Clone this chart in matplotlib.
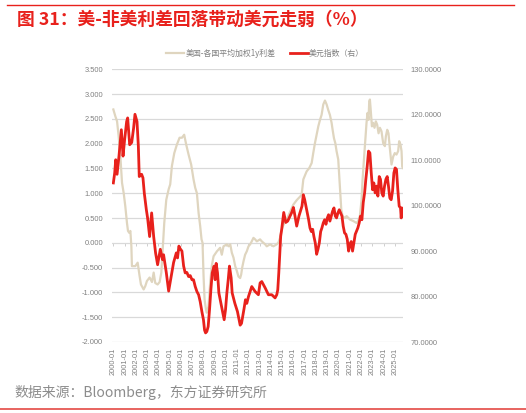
import matplotlib
matplotlib.use("Agg")
import matplotlib.pyplot as plt
from matplotlib.lines import Line2D
from matplotlib.ticker import FormatStrFormatter, FixedLocator

plt.rcParams['axes.unicode_minus'] = False
plt.rcParams['font.family'] = ['Liberation Sans', 'Noto Sans CJK SC', 'DejaVu Sans']

# ---------------- data ----------------
spread_t = [2000.00, 2000.18, 2000.33, 2000.47, 2000.62, 2000.77, 2000.92, 2001.06, 2001.21, 2001.30,
            2001.42, 2001.51, 2001.60, 2001.65, 2001.95, 2002.16, 2002.33, 2002.45, 2002.69, 2002.84,
            2002.98, 2003.22, 2003.43, 2003.58, 2003.72, 2003.93, 2004.11, 2004.26, 2004.40, 2004.52,
            2004.70, 2004.91, 2005.05, 2005.20, 2005.41, 2005.64, 2005.88, 2006.09, 2006.29, 2006.47,
            2006.68, 2006.91, 2007.12, 2007.27, 2007.42, 2007.57, 2007.71, 2007.83, 2007.92, 2008.01,
            2008.10, 2008.22, 2008.30, 2008.45, 2008.60, 2008.75, 2008.90, 2009.20, 2009.48, 2009.63,
            2009.78, 2010.08, 2010.23, 2010.38, 2010.52, 2010.67, 2010.82, 2010.97, 2011.11, 2011.26,
            2011.35, 2011.44, 2011.56, 2011.70, 2011.85, 2012.00, 2012.15, 2012.29, 2012.44, 2012.59,
            2012.74, 2013.03, 2013.18, 2013.48, 2013.62, 2013.92, 2014.21, 2014.51, 2014.66, 2014.80,
            2014.95, 2015.10, 2015.39, 2015.69, 2015.98, 2016.28, 2016.57, 2016.72, 2016.87, 2017.16,
            2017.40, 2017.61, 2017.75, 2017.90, 2018.05, 2018.20, 2018.35, 2018.49, 2018.64, 2018.79,
            2018.94, 2019.08, 2019.23, 2019.38, 2019.47, 2019.59, 2019.71, 2019.82, 2019.97, 2020.06,
            2020.15, 2020.24, 2020.36, 2020.56, 2020.71, 2021.01, 2021.30, 2021.60, 2021.74, 2021.89,
            2022.04, 2022.13, 2022.25, 2022.37, 2022.48, 2022.57, 2022.66, 2022.72, 2022.78, 2022.84,
            2022.96, 2023.07, 2023.19, 2023.31, 2023.43, 2023.55, 2023.67, 2023.81, 2023.96, 2024.11,
            2024.20, 2024.32, 2024.43, 2024.55, 2024.70, 2024.85, 2024.99, 2025.14, 2025.29, 2025.38,
            2025.50, 2025.59, 2025.65, 2025.70]
spread_v = [2.69, 2.55, 2.45, 2.15, 1.75, 1.21, 1.00, 0.74, 0.40, 0.24,
            0.20, 0.24, -0.07, -0.47, -0.47, -0.40, -0.67, -0.84, -0.94, -0.87,
            -0.77, -0.70, -0.79, -0.60, -0.81, -0.84, -0.79, -0.60, -0.07, 0.40,
            0.87, 1.08, 1.18, 1.55, 1.81, 1.98, 2.12, 2.12, 2.18, 1.98,
            1.78, 1.58, 1.28, 1.11, 1.00, 0.60, 0.34, 0.07, 0.00, -0.67,
            -1.14, -1.34, -1.41, -1.28, -0.80, -0.45, -0.27, -0.17, -0.10, -0.24,
            -0.07, -0.03, -0.07, -0.03, -0.20, -0.30, -0.47, -0.57, -0.68, -0.71,
            -0.64, -0.50, -0.37, -0.24, -0.17, -0.07, -0.03, 0.03, 0.10, 0.07,
            0.03, 0.07, 0.03, -0.03, -0.07, -0.03, -0.07, -0.03, 0.01, 0.10,
            0.27, 0.36, 0.47, 0.62, 0.77, 0.86, 0.93, 0.97, 1.28, 1.44,
            1.51, 1.61, 1.81, 2.01, 2.18, 2.35, 2.48, 2.58, 2.79, 2.87,
            2.79, 2.68, 2.58, 2.42, 2.28, 2.11, 2.01, 1.85, 1.68, 1.34,
            1.01, 0.67, 0.54, 0.50, 0.54, 0.47, 0.44, 0.40, 0.44, 0.54,
            0.87, 1.28, 1.68, 2.08, 2.42, 2.62, 2.48, 2.85, 2.89, 2.72,
            2.35, 2.42, 2.32, 2.45, 2.38, 2.21, 2.32, 2.25, 2.01, 1.95,
            2.15, 2.28, 2.21, 1.91, 1.58, 1.74, 1.81, 1.78, 1.85, 2.05,
            1.98, 1.85, 1.54, 1.51]

dxy_t = [2000.00, 2000.12, 2000.21, 2000.33, 2000.50, 2000.71, 2000.86, 2001.00, 2001.18, 2001.27,
         2001.36, 2001.45, 2001.63, 2001.80, 2001.92, 2002.10, 2002.22, 2002.30, 2002.51, 2002.63,
         2002.75, 2002.93, 2003.04, 2003.22, 2003.40, 2003.58, 2003.75, 2003.93, 2004.17, 2004.37,
         2004.46, 2004.70, 2004.91, 2005.14, 2005.35, 2005.59, 2005.70, 2005.82, 2005.94, 2006.09,
         2006.24, 2006.38, 2006.53, 2006.68, 2006.83, 2006.98, 2007.12, 2007.27, 2007.42, 2007.57,
         2007.71, 2007.86, 2008.00, 2008.10, 2008.19, 2008.30, 2008.42, 2008.54, 2008.66, 2008.78,
         2008.95, 2009.04, 2009.13, 2009.25, 2009.37, 2009.60, 2009.84, 2009.96, 2010.08, 2010.20,
         2010.31, 2010.46, 2010.55, 2010.79, 2011.02, 2011.26, 2011.38, 2011.61, 2011.73, 2011.85,
         2012.00, 2012.29, 2012.59, 2012.88, 2013.03, 2013.18, 2013.48, 2013.77, 2014.07, 2014.36,
         2014.51, 2014.60, 2014.69, 2014.78, 2014.86, 2014.95, 2015.13, 2015.31, 2015.48, 2015.84,
         2015.99, 2016.13, 2016.28, 2016.48, 2016.75, 2016.87, 2016.99, 2017.10, 2017.22, 2017.34,
         2017.46, 2017.58, 2017.70, 2017.81, 2017.93, 2018.05, 2018.17, 2018.29, 2018.41, 2018.52,
         2018.64, 2018.76, 2018.88, 2019.00, 2019.11, 2019.23, 2019.35, 2019.47, 2019.59, 2019.71,
         2019.82, 2019.94, 2020.06, 2020.18, 2020.30, 2020.41, 2020.53, 2020.65, 2020.77, 2020.89,
         2021.01, 2021.12, 2021.24, 2021.36, 2021.48, 2021.71, 2021.83, 2021.95, 2022.07, 2022.19,
         2022.31, 2022.42, 2022.54, 2022.66, 2022.78, 2022.90, 2023.02, 2023.13, 2023.25, 2023.37,
         2023.49, 2023.61, 2023.72, 2023.84, 2023.96, 2024.08, 2024.20, 2024.32, 2024.43, 2024.55,
         2024.67, 2024.79, 2024.91, 2025.02, 2025.14, 2025.26, 2025.38, 2025.50, 2025.56, 2025.62,
         2025.70]
dxy_v = [105.0, 107.2, 110.1, 106.9, 110.9, 116.7, 110.9, 114.5, 118.5, 119.3,
         116.4, 113.4, 113.9, 117.1, 120.1, 118.5, 113.1, 106.4, 106.9, 106.1,
         102.7, 99.1, 97.3, 93.2, 98.4, 93.2, 89.6, 87.0, 90.4, 88.1,
         89.2, 85.3, 81.2, 84.5, 87.5, 89.6, 88.5, 91.1, 90.5, 90.0,
         86.7, 85.2, 85.3, 84.4, 84.6, 83.7, 83.7, 82.2, 81.1, 80.4,
         78.9, 76.7, 74.9, 72.6, 72.0, 72.3, 73.4, 77.1, 81.5, 85.2,
         86.7, 83.7, 87.3, 85.2, 80.8, 77.9, 74.9, 77.1, 80.8, 83.7,
         86.7, 84.1, 80.8, 78.5, 76.7, 73.7, 74.1, 77.4, 79.3, 78.5,
         80.0, 82.2, 81.1, 80.4, 83.0, 83.3, 81.9, 80.4, 80.4, 79.7,
         80.4, 81.5, 85.2, 89.6, 93.3, 94.8, 98.5, 96.3, 96.6, 98.5,
         99.6, 97.7, 95.5, 97.7, 99.9, 102.4, 101.3, 99.9, 98.4, 96.9,
         95.1, 94.3, 94.8, 93.2, 91.8, 89.3, 90.4, 91.8, 94.3, 95.1,
         96.2, 96.9, 95.9, 97.3, 98.0, 96.6, 97.7, 98.8, 99.5, 97.7,
         97.3, 98.4, 99.1, 98.4, 97.7, 95.5, 94.0, 93.7, 92.6, 90.0,
         91.5, 92.1, 90.0, 91.8, 93.7, 95.1, 96.2, 97.7, 96.9, 100.7,
         102.8, 105.8, 108.6, 112.0, 111.6, 107.2, 103.5, 105.0, 102.8, 104.3,
         102.1, 106.4, 105.8, 102.8, 102.1, 104.3, 105.8, 106.4, 104.3, 101.7,
         101.3, 103.2, 107.2, 108.3, 108.0, 103.5, 99.9, 99.5, 97.3, 99.5,
         97.7]

years = list(range(2000, 2026))
year_labels = [f"{y}-01" for y in years]
left_ticks = [3.5, 3.0, 2.5, 2.0, 1.5, 1.0, 0.5, 0.0, -0.5, -1.0, -1.5, -2.0]
right_ticks = [130, 120, 110, 100, 90, 80, 70]

title = "图 31：美-非美利差回落带动美元走弱（%）"
label_spread = "美国-各国平均加权1y利差"
label_dxy = "美元指数（右）"
source = "数据来源：Bloomberg，东方证券研究所"

# ---------------- style ----------------
RED = "#E8211C"
BEIGE = "#DFD5BF"
GRID = "#D9D9D9"
TXT = "#808080"
CJK = ['Noto Sans CJK SC', 'DejaVu Sans']

fig = plt.figure(figsize=(5.26, 4.13), dpi=100)
ax = fig.add_axes([112/526, 1-342/413, (403-112)/526, (342-69.3)/413])
ax2 = ax.twinx()

ymin, ymax = -2.0, 3.5
ax.set_ylim(ymin, ymax)
ax2.set_ylim(70, 130)
ax.set_xlim(1999.88, 2025.72)

ax.yaxis.set_major_locator(FixedLocator(left_ticks))
ax.yaxis.set_major_formatter(FormatStrFormatter('%.3f'))
ax2.yaxis.set_major_locator(FixedLocator(right_ticks))
ax2.yaxis.set_major_formatter(FormatStrFormatter('%.4f'))
ax.grid(axis='y', color=GRID, lw=0.9)
ax.set_axisbelow(True)

for a in (ax, ax2):
    for s in a.spines.values():
        s.set_visible(False)

ax.tick_params(axis='y', length=0, pad=6.5, labelsize=5.4, labelcolor=TXT)
ax2.tick_params(axis='y', length=0, pad=5.5, labelsize=5.4, labelcolor=TXT)

ax.set_xticks(years)
ax.set_xticklabels(year_labels, rotation=90, fontsize=5.3, color=TXT)
ax.tick_params(axis='x', length=0, pad=4)

# small ticks on the zero line
sec = ax.secondary_xaxis((0 - ymin) / (ymax - ymin))
sec.set_xticks(years)
sec.set_xticklabels([])
sec.tick_params(axis='x', length=2.2, width=0.6, color="#C8C8C8", direction='out')
sec.spines['bottom'].set_visible(False)

l1, = ax.plot(spread_t, spread_v, color=BEIGE, lw=1.6, label=label_spread, solid_joinstyle='round')
l2, = ax2.plot(dxy_t, dxy_v, color=RED, lw=2.0, label=label_dxy, solid_joinstyle='round')

leg = fig.legend(handles=[l1, l2], loc='center', bbox_to_anchor=(265/526, 1-53.3/413),
                 ncol=2, frameon=False, handlelength=2.3, handletextpad=0.15, columnspacing=1.8,
                 prop={'family': CJK, 'size': 5.7})
for t in leg.get_texts():
    t.set_color(TXT)

fig.text(17/526, 1-19.5/413, title, color=RED, fontsize=12.8, fontweight='bold',
         family=CJK, va='center', ha='left')
fig.text(14/526, 1-393/413, source, color="#8C8C8C", fontsize=10.0, family=CJK,
         va='center', ha='left')

fig.add_artist(Line2D([7/526, 514/526], [1-5/413, 1-5/413], color=RED, lw=1.0))
fig.add_artist(Line2D([0/526, 526/526], [1-409/413, 1-409/413], color="#E8635F", lw=1.4))

fig.savefig("out.png", dpi=100)
